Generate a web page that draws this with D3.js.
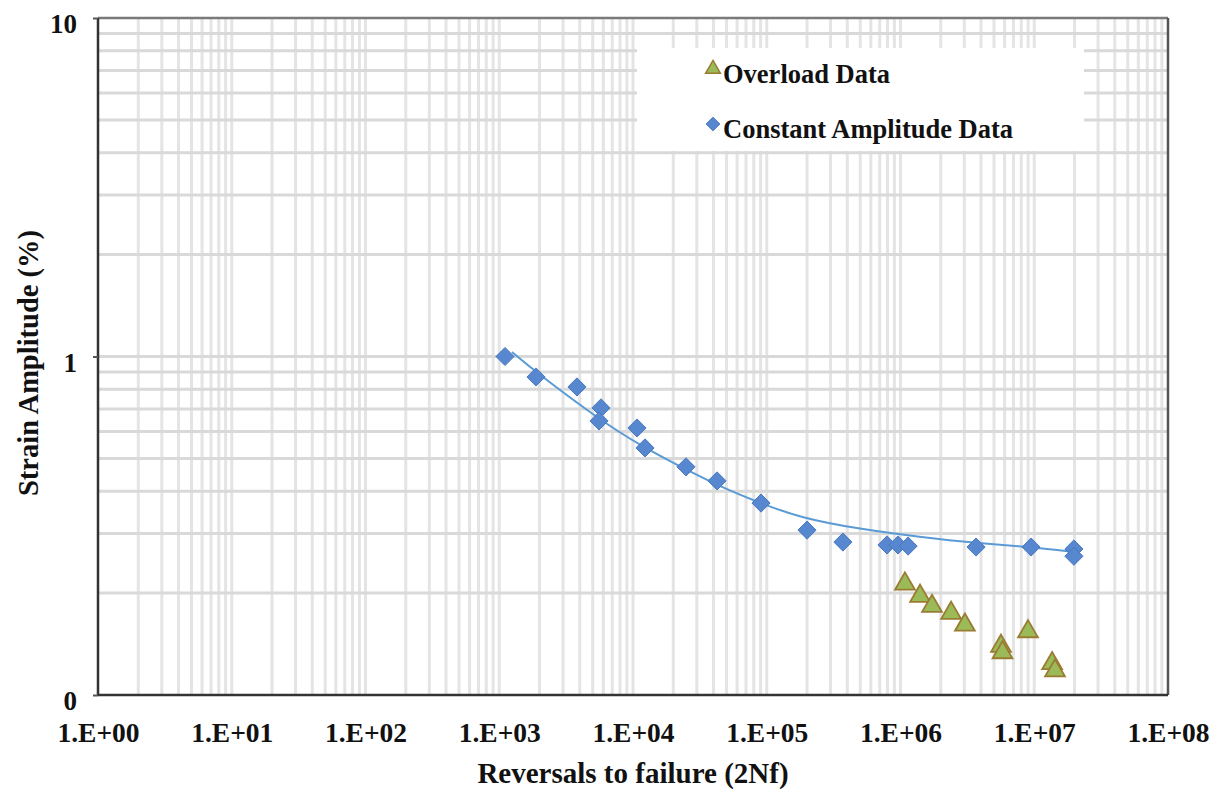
<!DOCTYPE html>
<html>
<head>
<meta charset="utf-8">
<script src="https://cdn.jsdelivr.net/npm/d3@7"></script>
<style>
  html, body { margin: 0; padding: 0; background: #fff; }
  svg { display: block; }
  text { font-family: "Liberation Serif", "Tinos", "Times New Roman", serif; font-weight: bold; fill: #111; }
</style>
</head>
<body>
<svg id="chart" width="1224" height="793"></svg>
<script>
// ---------------- data ----------------
const xTickValues = [1, 1e1, 1e2, 1e3, 1e4, 1e5, 1e6, 1e7, 1e8];
const xTickLabels = ["1.E+00", "1.E+01", "1.E+02", "1.E+03", "1.E+04", "1.E+05", "1.E+06", "1.E+07", "1.E+08"];
const yTickValues = [0.1, 1, 10];
const yTickLabels = ["0", "1", "10"];

// Constant amplitude data: reversals (2Nf), strain amplitude (%)
const constantN = [1104, 1883, 3813, 5765, 5570, 10715, 12300, 24900, 42500, 90600, 200000, 371000,
                   793000, 958000, 1140000, 3670000, 9460000, 19800000, 19800000];
const constantStrain = [1.0, 0.870, 0.813, 0.705, 0.645, 0.615, 0.537, 0.472, 0.429, 0.369, 0.307, 0.283,
                        0.2775, 0.2775, 0.2754, 0.2736, 0.2736, 0.270, 0.257];

// Overload data
const overloadN = [1080000, 1400000, 1720000, 2390000, 3030000, 5640000, 5790000, 8980000, 13600000, 14300000];
const overloadStrain = [0.213, 0.196, 0.183, 0.1746, 0.161, 0.1395, 0.1335, 0.154, 0.124, 0.118];

// Trend line
const trendN = [1245, 1915, 5665, 11880, 25300, 42500, 89100, 177400, 498000, 1400000, 3670000, 9460000, 20200000];
const trendStrain = [1.031, 0.894, 0.649, 0.540, 0.462, 0.417, 0.369, 0.334, 0.309, 0.293, 0.281, 0.2736, 0.2646];

const legendLabels = ["Overload Data", "Constant Amplitude Data"];
const xTitle = "Reversals to failure (2Nf)";
const yTitle = "Strain Amplitude (%)";

// ---------------- layout ----------------
const svg = d3.select("#chart");
const L = 98, R = 1168, T = 18, B = 695;

const x = d3.scaleLog().domain([1, 1e8]).range([L, R]);
const y = d3.scaleLog().domain([0.1, 10]).range([B, T]);

// minor grid positions
const xGrid = [];
for (let e = 0; e < 8; e++) for (let m = 1; m <= 9; m++) xGrid.push(m * Math.pow(10, e));
const yGrid = [];
for (let e = -1; e < 1; e++) for (let m = 1; m <= 9; m++) yGrid.push(m * Math.pow(10, e));

const grid = svg.append("g");
grid.selectAll("line.vx").data(xGrid.filter(v => v > 1)).enter().append("line")
  .attr("x1", d => x(d)).attr("x2", d => x(d))
  .attr("y1", T).attr("y2", B)
  .attr("stroke", "#e4e4e4").attr("stroke-width", 3);
grid.selectAll("line.hy").data(yGrid.filter(v => v > 0.1)).enter().append("line")
  .attr("x1", L).attr("x2", R)
  .attr("y1", d => y(d)).attr("y2", d => y(d))
  .attr("stroke", "#d9d9d9").attr("stroke-width", 3);

// legend box (white, covers grid)
const lg = svg.append("g");
lg.append("rect").attr("x", 637).attr("y", 48).attr("width", 447).attr("height", 103).attr("fill", "#fff");

// plot frame
svg.append("line").attr("x1", L).attr("x2", R).attr("y1", T).attr("y2", T).attr("stroke", "#7a7a7a").attr("stroke-width", 2.5);
svg.append("line").attr("x1", R).attr("x2", R).attr("y1", T).attr("y2", B).attr("stroke", "#555").attr("stroke-width", 2.5);
svg.append("line").attr("x1", L).attr("x2", R).attr("y1", B).attr("y2", B).attr("stroke", "#333").attr("stroke-width", 2.5);
svg.append("line").attr("x1", L).attr("x2", L).attr("y1", T).attr("y2", B).attr("stroke", "#333").attr("stroke-width", 2.5);

// y axis
const yAxis = d3.axisLeft(y).tickValues(yTickValues).tickFormat((d, i) => yTickLabels[i]).tickSize(5).tickPadding(16);
const ya = svg.append("g").attr("transform", `translate(${L},0)`).call(yAxis);
ya.select(".domain").remove();
ya.selectAll(".tick line").attr("stroke", "#555").attr("stroke-width", 2);
ya.selectAll(".tick text").attr("font-size", 27).attr("fill", "#111").attr("dy", "0.55em");

// x axis
const xAxis = d3.axisBottom(x).tickValues(xTickValues).tickFormat((d, i) => xTickLabels[i]).tickSize(0).tickPadding(27);
const xa = svg.append("g").attr("transform", `translate(0,${B})`).call(xAxis);
xa.select(".domain").remove();
xa.selectAll(".tick text").attr("font-size", 27.5).attr("fill", "#111");

// axis titles
svg.append("text").attr("x", 633).attr("y", 783).attr("text-anchor", "middle")
  .attr("font-size", 29).text(xTitle);
svg.append("text").attr("transform", "translate(38,363) rotate(-90)").attr("text-anchor", "middle")
  .attr("font-size", 28.5).text(yTitle);

// trend line
const trend = trendN.map((n, i) => [n, trendStrain[i]]);
svg.append("path").datum(trend)
  .attr("d", d3.line().x(d => x(d[0])).y(d => y(d[1])).curve(d3.curveBasis))
  .attr("fill", "none").attr("stroke", "#5b9bd5").attr("stroke-width", 2);

// constant amplitude (diamonds)
const diamond = d3.symbol().type(d3.symbolDiamond2).size(210);
svg.append("g").selectAll("path").data(constantN.map((n, i) => [n, constantStrain[i]])).enter().append("path")
  .attr("d", diamond)
  .attr("transform", d => `translate(${x(d[0])},${y(d[1])})`)
  .attr("fill", "#5787cf").attr("stroke", "#4a78c0").attr("stroke-width", 1);

// overload (triangles)
const tri = d3.symbol().type(d3.symbolTriangle).size(170);
svg.append("g").selectAll("path").data(overloadN.map((n, i) => [n, overloadStrain[i]])).enter().append("path")
  .attr("d", tri)
  .attr("transform", d => `translate(${x(d[0])},${y(d[1])})`)
  .attr("fill", "#9bbb59").attr("stroke", "#9a7b32").attr("stroke-width", 1.8);

// legend entries
lg.append("path").attr("d", d3.symbol().type(d3.symbolTriangle).size(95)).attr("transform", "translate(713,69)")
  .attr("fill", "#9bbb59").attr("stroke", "#9a7b32").attr("stroke-width", 1.5);
lg.append("text").attr("x", 723).attr("y", 83).attr("font-size", 26.5).text(legendLabels[0]);
lg.append("path").attr("d", d3.symbol().type(d3.symbolDiamond2).size(120)).attr("transform", "translate(713,124)")
  .attr("fill", "#5787cf").attr("stroke", "#4a78c0").attr("stroke-width", 1);
lg.append("text").attr("x", 723).attr("y", 138).attr("font-size", 26.5).text(legendLabels[1]);
</script>
</body>
</html>
